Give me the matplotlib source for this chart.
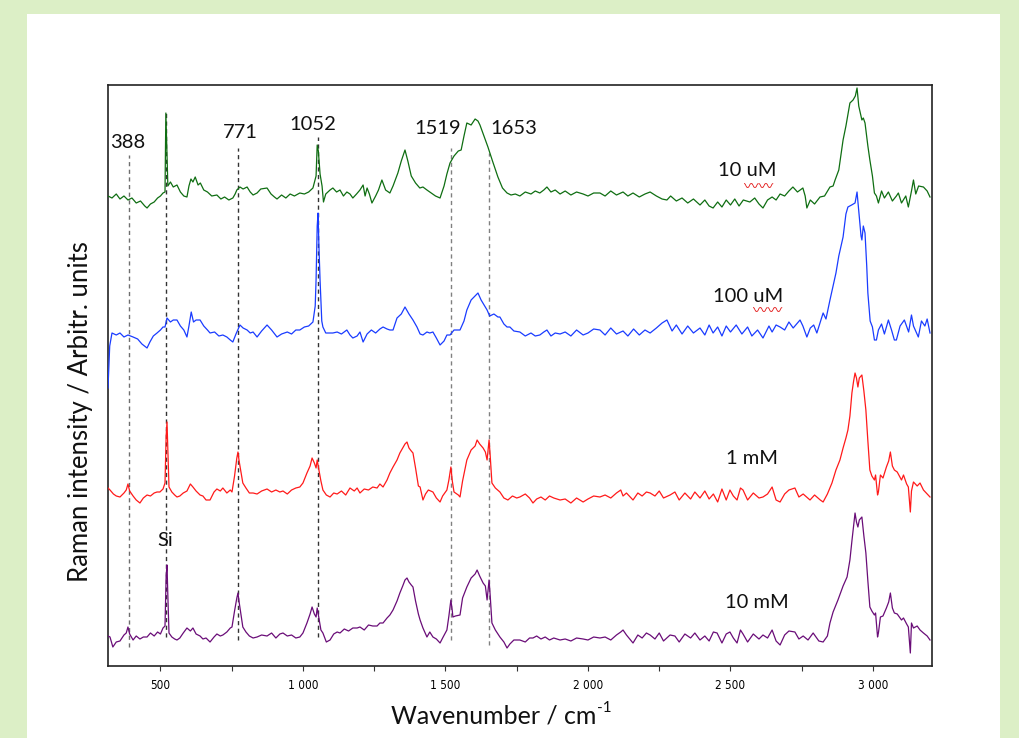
import matplotlib
matplotlib.use("Agg")
import matplotlib.pyplot as plt
from matplotlib.patches import Rectangle
from matplotlib.ticker import FixedLocator, FuncFormatter

plt.rcParams['font.family'] = ['Lato', 'DejaVu Sans']

# spectra: (wavenumber / cm-1, intensity in arbitrary units)
spec_10uM = [
    (316, 470), (330, 468), (345, 472), (358, 467), (372, 470), (386, 466), (400, 468), (415, 463),
    (430, 465), (445, 460), (453, 458), (465, 462), (478, 464), (490, 468), (500, 470), (509, 473),
    (516, 474), (519, 553), (522, 520), (526, 480), (535, 484), (545, 479), (558, 481), (570, 474),
    (582, 470), (593, 469), (600, 480), (607, 487), (614, 484), (622, 489), (632, 481), (640, 483),
    (652, 476), (665, 474), (680, 470), (698, 471), (712, 467), (725, 469), (740, 466), (754, 468),
    (762, 472), (768, 476), (779, 479), (790, 477), (804, 479), (815, 474), (825, 471), (839, 473),
    (852, 477), (874, 478), (888, 472), (900, 469), (909, 467), (925, 471), (940, 468), (955, 472),
    (970, 470), (989, 473), (1005, 472), (1020, 474), (1035, 478), (1046, 490), (1050, 521),
    (1054, 515), (1060, 492), (1067, 480), (1072, 464), (1080, 472), (1095, 476), (1105, 478),
    (1118, 474), (1130, 476), (1142, 470), (1154, 474), (1165, 472), (1175, 468), (1188, 472),
    (1200, 476), (1211, 481), (1218, 470), (1225, 478), (1233, 472), (1242, 463), (1255, 470),
    (1265, 476), (1277, 486), (1290, 476), (1305, 473), (1316, 480), (1333, 493), (1345, 505),
    (1358, 516), (1368, 505), (1380, 490), (1395, 483), (1410, 478), (1421, 479), (1435, 476),
    (1450, 473), (1465, 470), (1481, 468), (1495, 480), (1505, 492), (1516, 503), (1530, 510),
    (1545, 515), (1555, 516), (1565, 530), (1575, 543), (1590, 541), (1604, 547), (1614, 545),
    (1621, 541), (1635, 530), (1649, 519), (1665, 505), (1684, 489), (1700, 478), (1716, 473),
    (1730, 471), (1745, 472), (1761, 470), (1780, 474), (1800, 472), (1815, 475), (1831, 473),
    (1845, 476), (1856, 479), (1870, 474), (1885, 476), (1902, 472), (1920, 475), (1940, 471),
    (1960, 474), (1983, 472), (2000, 470), (2020, 473), (2042, 473), (2060, 470), (2080, 475),
    (2100, 471), (2123, 474), (2140, 470), (2158, 473), (2180, 469), (2200, 472), (2218, 474),
    (2240, 470), (2260, 467), (2277, 466), (2290, 470), (2310, 465), (2330, 468), (2350, 463),
    (2370, 467), (2393, 461), (2410, 466), (2425, 460), (2439, 458), (2455, 464), (2470, 459),
    (2485, 466), (2500, 461), (2515, 467), (2530, 460), (2545, 466), (2568, 464), (2585, 468),
    (2600, 462), (2614, 458), (2630, 466), (2646, 469), (2660, 466), (2674, 472), (2690, 470),
    (2705, 475), (2719, 479), (2735, 474), (2754, 478), (2762, 470), (2768, 458), (2780, 466),
    (2795, 462), (2814, 469), (2830, 470), (2849, 479), (2860, 480), (2867, 486), (2880, 496),
    (2895, 526), (2905, 540), (2919, 563), (2930, 566), (2938, 570), (2944, 578), (2950, 560),
    (2961, 546), (2966, 548), (2972, 543), (2982, 520), (2989, 506), (2998, 490), (3005, 473),
    (3012, 470), (3019, 463), (3030, 475), (3040, 468), (3054, 474), (3068, 465), (3082, 470),
    (3089, 473), (3100, 463), (3115, 470), (3124, 459), (3135, 475), (3142, 486), (3150, 472),
    (3160, 480), (3177, 479), (3190, 475), (3200, 469),
]

spec_100uM = [
    (316, 278), (322, 320), (330, 333), (345, 331), (358, 333), (372, 329), (386, 331), (404, 329),
    (420, 327), (435, 322), (453, 318), (463, 324), (475, 330), (488, 333), (500, 336), (509, 339),
    (516, 339), (523, 348), (535, 344), (545, 346), (558, 346), (570, 340), (582, 336), (593, 329),
    (600, 340), (608, 354), (616, 344), (625, 346), (639, 346), (652, 340), (665, 336), (674, 333),
    (690, 334), (705, 330), (719, 331), (733, 329), (745, 326), (754, 324), (765, 332), (779, 341),
    (790, 338), (804, 336), (815, 333), (825, 334), (839, 329), (855, 335), (874, 341), (890, 336),
    (909, 329), (925, 332), (945, 334), (960, 332), (975, 336), (989, 336), (1005, 339),
    (1020, 340), (1035, 344), (1043, 360), (1046, 386), (1050, 440), (1053, 453), (1056, 420),
    (1060, 386), (1066, 345), (1070, 339), (1080, 333), (1095, 333), (1105, 333), (1120, 334),
    (1135, 332), (1154, 336), (1165, 331), (1175, 328), (1190, 330), (1200, 334), (1211, 324),
    (1225, 332), (1240, 336), (1255, 333), (1270, 337), (1281, 339), (1295, 337), (1305, 336),
    (1316, 336), (1330, 348), (1345, 352), (1358, 359), (1372, 352), (1386, 346), (1400, 339),
    (1411, 332), (1421, 331), (1435, 334), (1445, 333), (1456, 334), (1468, 328), (1481, 321),
    (1495, 325), (1505, 331), (1516, 331), (1530, 336), (1551, 336), (1565, 345), (1575, 356),
    (1590, 366), (1604, 370), (1614, 373), (1625, 366), (1646, 356), (1655, 350), (1670, 352),
    (1684, 349), (1691, 349), (1705, 342), (1716, 339), (1726, 339), (1740, 335), (1761, 334),
    (1780, 330), (1800, 333), (1815, 330), (1831, 331), (1845, 334), (1856, 336), (1870, 330),
    (1885, 333), (1902, 332), (1920, 334), (1940, 330), (1960, 336), (1983, 331), (2000, 333),
    (2020, 337), (2042, 336), (2060, 331), (2080, 338), (2100, 332), (2123, 335), (2140, 330),
    (2160, 337), (2180, 331), (2200, 336), (2218, 333), (2240, 338), (2260, 343), (2277, 346),
    (2295, 335), (2310, 341), (2330, 332), (2350, 340), (2370, 333), (2393, 338), (2410, 331),
    (2425, 341), (2439, 333), (2455, 339), (2470, 330), (2485, 340), (2500, 334), (2520, 341),
    (2540, 332), (2560, 339), (2575, 330), (2595, 336), (2614, 328), (2621, 332), (2635, 340),
    (2646, 334), (2660, 341), (2674, 339), (2690, 336), (2705, 344), (2720, 338), (2744, 346),
    (2754, 340), (2768, 329), (2780, 338), (2792, 341), (2803, 333), (2814, 343), (2825, 353),
    (2835, 347), (2849, 366), (2860, 380), (2870, 393), (2880, 410), (2895, 429), (2905, 452),
    (2912, 459), (2925, 461), (2937, 463), (2944, 474), (2950, 455), (2958, 430), (2961, 426),
    (2966, 440), (2972, 433), (2978, 400), (2982, 373), (2990, 345), (2998, 339), (3005, 326),
    (3012, 326), (3019, 336), (3030, 342), (3040, 332), (3054, 346), (3065, 336), (3075, 326),
    (3082, 326), (3095, 340), (3110, 346), (3125, 334), (3135, 351), (3142, 340), (3159, 329),
    (3170, 345), (3182, 340), (3190, 347), (3200, 333),
]

spec_1mM = [
    (316, 178), (323, 176), (335, 172), (345, 170), (358, 169), (372, 173), (380, 176), (386, 182),
    (392, 175), (404, 170), (415, 166), (428, 163), (440, 168), (453, 171), (465, 170), (478, 173),
    (488, 174), (498, 174), (509, 177), (516, 183), (520, 230), (523, 244), (526, 215), (530, 179),
    (540, 174), (550, 171), (558, 169), (568, 170), (580, 173), (593, 175), (605, 182), (614, 179),
    (625, 175), (639, 171), (649, 170), (660, 166), (674, 166), (688, 174), (698, 177), (710, 175),
    (719, 178), (733, 173), (745, 176), (751, 174), (760, 190), (768, 208), (772, 214), (776, 205),
    (789, 183), (800, 178), (812, 173), (825, 173), (839, 172), (855, 175), (874, 177), (890, 174),
    (905, 176), (919, 174), (930, 175), (945, 172), (960, 176), (975, 178), (989, 179), (1000, 183),
    (1014, 193), (1025, 200), (1032, 208), (1040, 203), (1046, 198), (1050, 206), (1056, 196),
    (1063, 185), (1070, 176), (1082, 171), (1095, 169), (1108, 173), (1120, 172), (1135, 175),
    (1150, 171), (1165, 178), (1180, 175), (1190, 178), (1200, 173), (1215, 177), (1230, 176),
    (1245, 179), (1260, 178), (1270, 182), (1281, 179), (1295, 186), (1305, 193), (1316, 199),
    (1330, 206), (1340, 213), (1350, 218), (1358, 222), (1365, 224), (1372, 218), (1380, 215),
    (1386, 213), (1395, 198), (1405, 180), (1411, 179), (1421, 166), (1430, 172), (1440, 176),
    (1456, 174), (1468, 168), (1481, 164), (1490, 170), (1505, 176), (1512, 186), (1519, 199),
    (1524, 185), (1530, 174), (1545, 171), (1551, 169), (1560, 185), (1575, 206), (1590, 216),
    (1604, 220), (1611, 226), (1620, 222), (1632, 218), (1640, 214), (1646, 206), (1650, 218),
    (1653, 226), (1657, 210), (1663, 183), (1675, 178), (1691, 174), (1705, 168), (1719, 166),
    (1735, 170), (1750, 168), (1761, 169), (1780, 172), (1795, 168), (1807, 163), (1820, 167),
    (1835, 169), (1850, 166), (1865, 170), (1880, 168), (1902, 166), (1920, 167), (1940, 163),
    (1960, 168), (1983, 164), (2000, 167), (2020, 170), (2042, 169), (2060, 171), (2080, 168),
    (2100, 173), (2115, 176), (2123, 170), (2135, 173), (2158, 166), (2175, 173), (2190, 170),
    (2205, 174), (2218, 173), (2235, 170), (2250, 175), (2265, 168), (2288, 171), (2305, 174),
    (2320, 166), (2340, 173), (2360, 167), (2375, 174), (2393, 168), (2410, 175), (2425, 167),
    (2440, 172), (2455, 164), (2470, 177), (2485, 166), (2498, 176), (2510, 170), (2523, 166),
    (2535, 178), (2544, 176), (2560, 166), (2580, 173), (2600, 168), (2614, 169), (2630, 172),
    (2646, 179), (2660, 166), (2674, 164), (2690, 172), (2705, 176), (2726, 178), (2740, 169),
    (2755, 172), (2779, 166), (2795, 171), (2815, 166), (2825, 164), (2840, 172), (2856, 183),
    (2870, 196), (2884, 206), (2895, 218), (2905, 228), (2912, 236), (2919, 250), (2926, 273),
    (2932, 285), (2937, 293), (2942, 288), (2947, 279), (2952, 288), (2961, 291), (2968, 275),
    (2975, 256), (2982, 225), (2989, 196), (2996, 190), (3005, 186), (3009, 191), (3016, 171),
    (3019, 174), (3026, 191), (3035, 188), (3047, 199), (3055, 205), (3061, 214), (3068, 200),
    (3075, 196), (3085, 194), (3100, 186), (3107, 191), (3118, 182), (3124, 179), (3131, 154),
    (3135, 175), (3142, 184), (3155, 180), (3165, 183), (3177, 176), (3190, 172), (3200, 169),
]

spec_10mM = [
    (316, 30), (323, 29), (333, 19), (345, 24), (358, 25), (372, 31), (380, 33), (386, 39),
    (392, 32), (404, 26), (415, 30), (428, 27), (440, 29), (453, 29), (465, 33), (478, 30),
    (490, 34), (500, 32), (509, 38), (516, 40), (520, 90), (523, 101), (526, 70), (530, 33),
    (540, 29), (550, 27), (558, 26), (568, 28), (580, 33), (593, 38), (605, 35), (614, 38),
    (625, 32), (639, 30), (649, 27), (660, 28), (674, 24), (688, 29), (698, 32), (710, 30),
    (719, 31), (733, 34), (745, 38), (751, 39), (760, 55), (768, 68), (772, 73), (776, 64),
    (789, 39), (800, 34), (812, 30), (825, 28), (839, 29), (855, 31), (874, 30), (890, 33),
    (905, 28), (919, 32), (930, 33), (945, 30), (960, 31), (975, 28), (989, 29), (1000, 33),
    (1014, 43), (1025, 52), (1032, 59), (1040, 52), (1046, 49), (1050, 58), (1056, 48),
    (1063, 36), (1070, 33), (1082, 24), (1095, 26), (1108, 32), (1120, 34), (1130, 33),
    (1145, 37), (1160, 35), (1175, 38), (1190, 38), (1200, 39), (1215, 36), (1230, 41),
    (1245, 40), (1260, 40), (1270, 43), (1281, 43), (1295, 48), (1305, 51), (1316, 56),
    (1330, 65), (1340, 73), (1350, 80), (1358, 86), (1365, 88), (1372, 84), (1380, 81),
    (1386, 79), (1395, 65), (1405, 52), (1411, 46), (1421, 38), (1435, 29), (1445, 34),
    (1456, 29), (1468, 27), (1481, 23), (1490, 28), (1505, 36), (1512, 50), (1519, 66),
    (1524, 55), (1526, 49), (1535, 50), (1551, 51), (1560, 68), (1575, 79), (1590, 88),
    (1604, 92), (1611, 96), (1620, 90), (1632, 83), (1640, 80), (1646, 66), (1650, 78),
    (1653, 86), (1657, 70), (1663, 43), (1675, 36), (1691, 29), (1705, 24), (1716, 18),
    (1726, 22), (1740, 26), (1761, 26), (1780, 24), (1795, 28), (1807, 28), (1820, 30),
    (1835, 27), (1850, 29), (1865, 26), (1880, 28), (1902, 26), (1920, 27), (1940, 25),
    (1960, 28), (1983, 27), (2000, 26), (2020, 29), (2042, 28), (2060, 29), (2080, 26),
    (2100, 31), (2115, 34), (2123, 36), (2135, 31), (2158, 23), (2175, 31), (2190, 28),
    (2205, 33), (2218, 31), (2235, 27), (2250, 33), (2265, 25), (2288, 31), (2305, 30),
    (2320, 24), (2340, 32), (2360, 28), (2375, 33), (2393, 26), (2410, 30), (2425, 25),
    (2440, 34), (2453, 33), (2470, 23), (2485, 32), (2498, 34), (2510, 28), (2523, 23),
    (2535, 36), (2544, 32), (2560, 24), (2580, 32), (2600, 27), (2614, 31), (2630, 28),
    (2646, 36), (2660, 25), (2674, 21), (2690, 31), (2705, 35), (2726, 34), (2740, 27),
    (2755, 30), (2772, 26), (2790, 33), (2810, 25), (2825, 24), (2840, 30), (2849, 43),
    (2860, 54), (2877, 66), (2895, 80), (2909, 89), (2919, 106), (2926, 125), (2932, 140),
    (2937, 153), (2942, 144), (2947, 139), (2952, 146), (2961, 149), (2968, 130), (2975, 113),
    (2982, 85), (2989, 59), (2996, 55), (3005, 51), (3009, 53), (3016, 29), (3019, 33),
    (3026, 49), (3035, 50), (3047, 58), (3055, 64), (3061, 73), (3068, 58), (3075, 53),
    (3085, 52), (3100, 46), (3107, 48), (3118, 42), (3124, 39), (3131, 13), (3135, 43),
    (3142, 38), (3155, 40), (3165, 36), (3177, 33), (3190, 30), (3200, 26),
]

series_labels = ["10 uM", "100 uM", "1 mM", "10 mM"]
series_colors = ["#0f6e12", "#1a3cff", "#ff1a1a", "#6a0d78"]

peak_labels = ["388", "771", "1052", "1519", "1653"]
peak_wn = [388, 771, 1052, 1519, 1653]
si_wn = 520

fig = plt.figure(figsize=(10.19, 7.38), dpi=100)
fig.patch.set_facecolor("#dcefc6")
fig.add_artist(Rectangle((27 / 1019, 0), (1000 - 27) / 1019, (738 - 14) / 738,
                         transform=fig.transFigure, facecolor="white", edgecolor="none", zorder=0))

ax = fig.add_axes([108 / 1019, 1 - 666 / 738, (932 - 108) / 1019, (666 - 85) / 738])
ax.set_facecolor("white")
ax.set_zorder(1)

for pts, c in zip([spec_10uM, spec_100uM, spec_1mM, spec_10mM], series_colors):
    xs = [p[0] for p in pts]
    ys = [p[1] for p in pts]
    ax.plot(xs, ys, color=c, lw=0.9, zorder=3)

# dashed guide lines at the assigned bands
guide_tops = {388: 511, 520: 553, 771: 518, 1052: 529, 1519: 518, 1653: 513}
guide_bots = {388: 19, 520: 29, 771: 26, 1052: 29, 1519: 26, 1653: 21}
guide_cols = {388: "#6e6e6e", 520: "#333333", 771: "#333333", 1052: "#333333",
              1519: "#808080", 1653: "#808080"}
for w in [388, si_wn, 771, 1052, 1519, 1653]:
    ax.plot([w, w], [guide_bots[w], guide_tops[w]], color=guide_cols[w], lw=1.0,
            ls=(0, (3, 2.5)), zorder=2)

# peak labels
label_pos = [(386, 523), (779, 533), (1035, 541), (1474, 538), (1740, 538)]
for txt, (lx, ly) in zip(peak_labels, label_pos):
    ax.text(lx, ly, txt, fontsize=14.5, ha="center", va="center", color="#111111", zorder=4)
ax.text(516, 126, "Si", fontsize=14.5, ha="center", va="center", color="#111111", zorder=4)

conc_pos = [(2558, 495), (2562, 369), (2576, 208), (2593, 63)]
squiggle_off = {"10 uM": (8, -11.5), "100 uM": (14, -10.5)}
for txt, (lx, ly) in zip(series_labels, conc_pos):
    ax.text(lx, ly, txt, fontsize=14.5, ha="center", va="center", color="#111111", zorder=4)
    if txt in squiggle_off:
        # spell-check squiggle under "uM"
        ax.annotate("\u3030\u3030", xy=(lx, ly), xycoords="data", xytext=squiggle_off[txt],
                    textcoords="offset points", ha="center", va="center", color="#e00000",
                    fontsize=10.5, family=["Noto Sans CJK JP", "DejaVu Sans"], zorder=4)

ax.set_xlim(316, 3207)
ax.set_ylim(0, 581)
ax.set_yticks([])
ax.xaxis.set_major_locator(FixedLocator([500, 1000, 1500, 2000, 2500, 3000]))
ax.xaxis.set_minor_locator(FixedLocator([750, 1250, 1750, 2250, 2750]))
ax.xaxis.set_major_formatter(FuncFormatter(lambda v, p: f"{v:,.0f}".replace(",", " ")))
ax.tick_params(axis="x", which="both", direction="out", length=3.5, width=0.8, color="#333333")
ax.tick_params(axis="x", which="major", pad=6)
for lab in ax.get_xticklabels():
    lab.set_fontfamily(["DejaVu Sans"])
    lab.set_fontstretch("condensed")
    lab.set_fontsize(8.5)
for sp in ax.spines.values():
    sp.set_color("#222222")
    sp.set_linewidth(1.2)

fig.text(596 / 1019, 1 - 723 / 738, "Wavenumber / cm", ha="right", va="baseline",
         fontsize=18, color="#111111")
fig.text(597 / 1019, 1 - 712 / 738, "-1", ha="left", va="baseline",
         fontsize=11, color="#111111")
fig.text(88 / 1019, 1 - 411.5 / 738, "Raman intensity / Arbitr. units", rotation=90,
         rotation_mode="anchor", ha="center", va="baseline", fontsize=18.5, color="#111111")

fig.savefig("out.png", dpi=100)
